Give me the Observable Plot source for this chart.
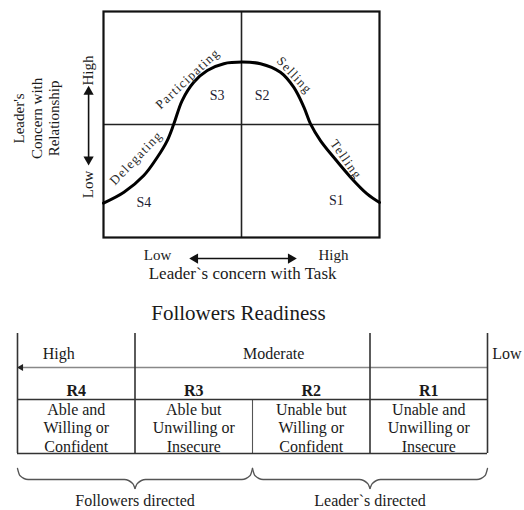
<!DOCTYPE html>
<html>
<head>
<meta charset="utf-8">
<script src="https://cdn.jsdelivr.net/npm/d3@7"></script>
<script src="https://cdn.jsdelivr.net/npm/@observablehq/plot@0.6"></script>
<style>
  html, body { margin: 0; padding: 0; background: #fff; }
  #chart { width: 524px; }
  #chart svg { display: block; }
</style>
</head>
<body>
<div id="chart"></div>
<script>
// ---------- DATA ----------
// Situational leadership curve: leader's concern with task (x) vs relationship (y), both 0..1
const taskConcern = [0, 0.074, 0.146, 0.195, 0.231, 0.255, 0.285, 0.327, 0.376, 0.436, 0.503, 0.569, 0.641, 0.689, 0.726, 0.75, 0.786, 0.834, 0.895, 0.955, 1];
const relationshipConcern = [0.152, 0.2, 0.274, 0.355, 0.429, 0.503, 0.606, 0.687, 0.739, 0.769, 0.776, 0.769, 0.731, 0.665, 0.577, 0.503, 0.429, 0.355, 0.267, 0.193, 0.155];

const styleCodes = ["S4", "S3", "S2", "S1"];
const styleNames = ["Delegating", "Participating", "Selling", "Telling"];
const scaleEnds = ["Low", "High"];
const yAxisTitle = "Leader's\nConcern with\nRelationship";
const xAxisTitle = "Leader`s concern with Task";

const readinessTitle = "Followers Readiness";
const readinessCodes = ["R4", "R3", "R2", "R1"];
const readinessLevel = ["High", "Moderate", "Moderate", "Low"];
const readinessDesc = [
  "Able and\nWilling or\nConfident",
  "Able but\nUnwilling or\nInsecure",
  "Unable but\nWilling or\nConfident",
  "Unable and\nUnwilling or\nInsecure"
];
const directedBy = ["Followers directed", "Followers directed", "Leader`s directed", "Leader`s directed"];

// ---------- LAYOUT (positions & styles, kept apart from data) ----------
const serif = "'Liberation Serif', 'Times New Roman', serif";
const ink = "#1a1a1a";
const sPos = [[0.146, 0.156], [0.412, 0.628], [0.575, 0.628], [0.844, 0.164]];
const namePos = [[0.118, 0.352, -46], [0.305, 0.703, -43], [0.692, 0.718, 47], [0.879, 0.345, 55]];

// ---------- TOP PLOT ----------
const curve = taskConcern.map((t, i) => ({task: t, rel: relationshipConcern[i]}));
const sLabels = styleCodes.map((s, i) => ({s, x: sPos[i][0], y: sPos[i][1]}));
const nLabels = styleNames.map((s, i) => ({s, x: namePos[i][0], y: namePos[i][1], r: namePos[i][2]}));

const topPlot = Plot.plot({
  width: 524, height: 290,
  marginLeft: 103, marginRight: 145, marginTop: 11, marginBottom: 53,
  x: {domain: [0, 1], axis: null},
  y: {domain: [0, 1], axis: null},
  style: {fontFamily: serif, background: "#fff", color: ink},
  marks: [
    Plot.ruleX([0.5], {stroke: "#222", strokeWidth: 1.6}),
    Plot.ruleY([0.5], {stroke: "#222", strokeWidth: 1.6}),
    Plot.frame({stroke: "#111", strokeWidth: 2.2}),
    Plot.line(curve, {x: "task", y: "rel", curve: "catmull-rom", stroke: "#000", strokeWidth: 3}),
    Plot.text(sLabels, {x: "x", y: "y", text: "s", fontSize: 14, fill: "#1c1c33"}),
    Plot.text(nLabels, {x: "x", y: "y", text: "s", rotate: "r", fontSize: 13, fill: "#2a2a2a"}),
    // vertical axis: Low / High with double arrow
    Plot.text([scaleEnds[1]], {x: -0.054, y: 0.739, text: d => d, rotate: -90, fontSize: 15}),
    Plot.text([scaleEnds[0]], {x: -0.054, y: 0.235, text: d => d, rotate: -90, fontSize: 15}),
    Plot.link([0], {x1: -0.054, x2: -0.054, y1: 0.35, y2: 0.64, stroke: "#111", strokeWidth: 1.6}),
    Plot.dot([0], {x: -0.054, y: 0.645, symbol: "triangle", r: 3.8, fill: "#111", stroke: "none"}),
    Plot.dot([0], {x: -0.054, y: 0.345, symbol: "triangle", r: 3.8, rotate: 180, fill: "#111", stroke: "none"}),
    Plot.text([yAxisTitle], {x: -0.245, y: 0.527, text: d => d, rotate: -90, fontSize: 15, lineHeight: 1.17}),
    // horizontal axis: Low / High with double arrow
    Plot.text([scaleEnds[0]], {x: 0.196, y: -0.08, text: d => d, fontSize: 15}),
    Plot.text([scaleEnds[1]], {x: 0.833, y: -0.08, text: d => d, fontSize: 15}),
    Plot.link([0], {x1: 0.335, x2: 0.675, y1: -0.093, y2: -0.093, stroke: "#111", strokeWidth: 1.6}),
    Plot.dot([0], {x: 0.332, y: -0.093, symbol: "triangle", r: 3.8, rotate: -90, fill: "#111", stroke: "none"}),
    Plot.dot([0], {x: 0.679, y: -0.093, symbol: "triangle", r: 3.8, rotate: 90, fill: "#111", stroke: "none"}),
    Plot.text([xAxisTitle], {x: 0.504, y: -0.159, text: d => d, fontSize: 17})
  ]
});

// letter-spacing for the curved style names
d3.select(topPlot).selectAll("text").filter(function() { return styleNames.includes(this.textContent); })
  .attr("letter-spacing", "1.2px");

// ---------- BOTTOM PLOT (table) ----------
const nCols = readinessCodes.length;
// column boundaries where the readiness level changes (header) and all boundaries (body)
const headerEdges = [0];
readinessLevel.forEach((l, i) => { if (i > 0 && l !== readinessLevel[i - 1]) headerEdges.push(i); });
headerEdges.push(nCols);
const outerEdges = [0, nCols];
const innerEdges = d3.range(1, nCols).filter(i => !headerEdges.includes(i));
const strongEdges = headerEdges.filter(e => !outerEdges.includes(e));

const levels = Array.from(new Set(readinessLevel));
const levelX = {High: 0.35, Moderate: 2.18, Low: 4.04};
const levelsInside = levels.filter(l => l !== "Low");
const levelsOutside = levels.filter(l => l === "Low");

const codes = readinessCodes.map((c, i) => ({c, x: i + 0.5, d: readinessDesc[i]}));

// brace groups
const groups = [];
directedBy.forEach((g, i) => {
  const last = groups[groups.length - 1];
  if (last && last.label === g) last.b = i + 1; else groups.push({label: g, a: i, b: i + 1});
});
const braceTop = 178, braceMid = 189, braceTip = 198;
const bracePts = [];
groups.forEach((g, k) => {
  const m = (g.a + g.b) / 2, c = 0.09, e = 0.02;
  const left = [[g.a, braceTop], [g.a + e, 185], [g.a + c, braceMid], [m - c, braceMid], [m - e, 193], [m, braceTip]];
  const right = [[m, braceTip], [m + e, 193], [m + c, braceMid], [g.b - c, braceMid], [g.b - e, 185], [g.b, braceTop]];
  left.forEach(p => bracePts.push({x: p[0], y: p[1], z: k + "L"}));
  right.forEach(p => bracePts.push({x: p[0], y: p[1], z: k + "R"}));
});

const yHeadTop = 43, yLevel = 63, yArrow = 77, yCode = 100, yRule = 109, yDesc = 137, yBottom = 163;

const bottomPlot = Plot.plot({
  width: 524, height: 220,
  marginLeft: 17, marginRight: 37, marginTop: 0, marginBottom: 0,
  x: {domain: [0, nCols], axis: null},
  y: {domain: [0, 220], reverse: true, axis: null},
  style: {fontFamily: serif, background: "#fff", color: ink},
  marks: [
    Plot.text([readinessTitle], {x: 1.88, y: 23, text: d => d, fontSize: 21}),
    // arrow (readiness direction)
    Plot.link([0], {x1: nCols, x2: 0.03, y1: yArrow, y2: yArrow, stroke: "#888", strokeWidth: 1.5}),
    Plot.dot([0], {x: 0.03, y: yArrow, symbol: "triangle", r: 2.6, rotate: -90, fill: "#222", stroke: "none"}),
    // grid lines
    Plot.ruleX(outerEdges.concat(strongEdges), {y1: yHeadTop, y2: yBottom, stroke: "#333", strokeWidth: 1.6}),
    Plot.ruleX(innerEdges, {y1: yRule, y2: yBottom, stroke: "#555", strokeWidth: 1.1}),
    Plot.ruleY([yRule, yBottom], {x1: 0, x2: nCols, stroke: "#333", strokeWidth: 1.6}),
    // level labels
    Plot.text(levelsInside, {x: d => levelX[d], y: yLevel, text: d => d, fontSize: 16}),
    Plot.text(levelsOutside, {x: d => levelX[d], y: yLevel, text: d => d, textAnchor: "start", fontSize: 16}),
    // codes & descriptions
    Plot.text(codes, {x: "x", y: yCode, text: "c", fontSize: 16, fontWeight: "bold"}),
    Plot.text(codes, {x: "x", y: yDesc, text: "d", fontSize: 16, lineHeight: 1.15}),
    // braces
    Plot.line(bracePts, {x: "x", y: "y", z: "z", curve: "monotone-x", stroke: "#555", strokeWidth: 1.3}),
    Plot.text(groups, {x: d => (d.a + d.b) / 2, y: 210, text: "label", fontSize: 16})
  ]
});

document.getElementById("chart").append(topPlot, bottomPlot);
</script>
</body>
</html>
